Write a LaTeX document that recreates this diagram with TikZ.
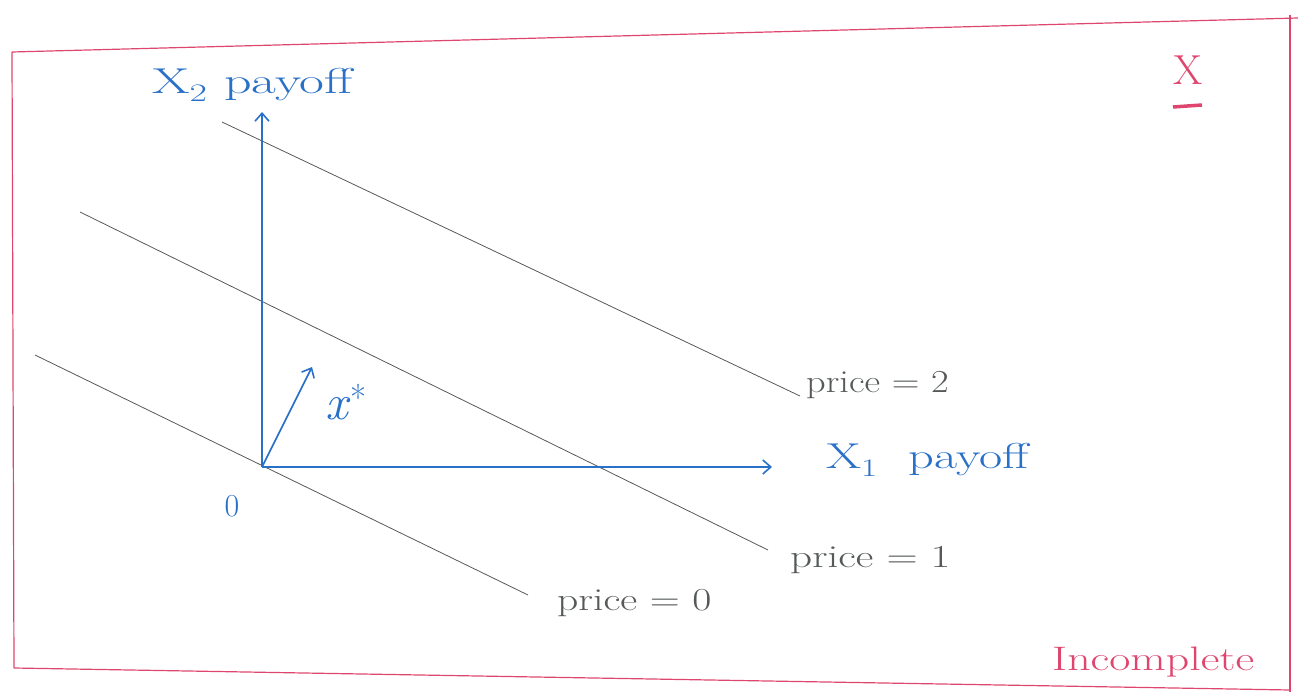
\documentclass[tikz,border=0pt]{standalone}
\usetikzlibrary{arrows.meta}
\definecolor{pen}{RGB}{40,112,200}
\definecolor{pencil}{RGB}{85,90,88}
\definecolor{redpen}{RGB}{222,70,110}
\newcommand{\fsz}[1]{\fontsize{#1}{#1}\selectfont}
\newcommand{\wide}[2]{\scalebox{#1}[1]{#2}}
\begin{document}
\begin{tikzpicture}[x=1pt,y=-1pt,
  axis/.style={draw=pen,line width=1.6pt,-{Straight Barb[length=8pt,width=14pt]}},
  budget/.style={draw=pencil,line width=0.8pt},
  bluelabel/.style={text=pen,font=\fsz{36}},
  graylabel/.style={text=pencil,font=\fsz{32}},
  redlabel/.style={text=redpen,font=\fsz{34}},
  frame/.style={draw=redpen,line width=1.2pt}]
\useasboundingbox (0,0) rectangle (1298,698);
% frame
\coordinate (f1) at (12,52);
\coordinate (f2) at (1298,18);
\coordinate (f3) at (1290,692);
\coordinate (f4) at (14,668);
\draw[frame] (f1) -- (f2);
\draw[frame] (1290,15) -- (f3);
\draw[frame] (f1) -- (f4);
\draw[frame] (f4) -- (1290,690);
% budget lines
\coordinate (p2a) at (222,122); \coordinate (p2b) at (800,396);
\coordinate (p1a) at (80,212);  \coordinate (p1b) at (768,550);
\coordinate (p0a) at (35,355);  \coordinate (p0b) at (528,595);
\draw[budget] (p2a) -- (p2b);
\draw[budget] (p1a) -- (p1b);
\draw[budget] (p0a) -- (p0b);
% axes
\coordinate (O) at (262,467);
\coordinate (ytip) at (262,112);
\coordinate (xtip) at (772,467);
\coordinate (xstar) at (312,367);
\draw[axis] (O) -- (ytip);
\draw[axis] (O) -- (xtip);
\draw[axis] (O) -- (xstar);
% labels
\node[bluelabel,anchor=west,inner sep=0pt] (y2) at (152,85) {\wide{1.5}{X\textsubscript{2} payoff}};
\node[bluelabel,anchor=west,inner sep=0pt] (x1) at (826,460) {\wide{1.4}{X\textsubscript{1}\ \ payoff}};
\node[bluelabel,font=\fsz{50}] (xs) at (346,402) {\textit{x}\textsuperscript{*}};
\node[bluelabel,font=\fsz{32}] (zero) at (232,506) {0};
\node[graylabel,anchor=west,inner sep=0pt] (l2) at (806,385) {\wide{1.2}{price = 2}};
\node[graylabel,anchor=west,inner sep=0pt] (l1) at (790,560) {\wide{1.35}{price = 1}};
\node[graylabel,anchor=west,inner sep=0pt] (l0) at (557,603) {\wide{1.3}{price = 0}};
\node[redlabel,font=\fsz{42}] (mark) at (1188,70) {X};
\draw[redpen,line width=3.5pt] (1173,107) -- (1202,105);
\node[redlabel,anchor=west,inner sep=0pt] (inc) at (1052,662) {\wide{1.35}{Incomplete}};
\end{tikzpicture}
\end{document}
